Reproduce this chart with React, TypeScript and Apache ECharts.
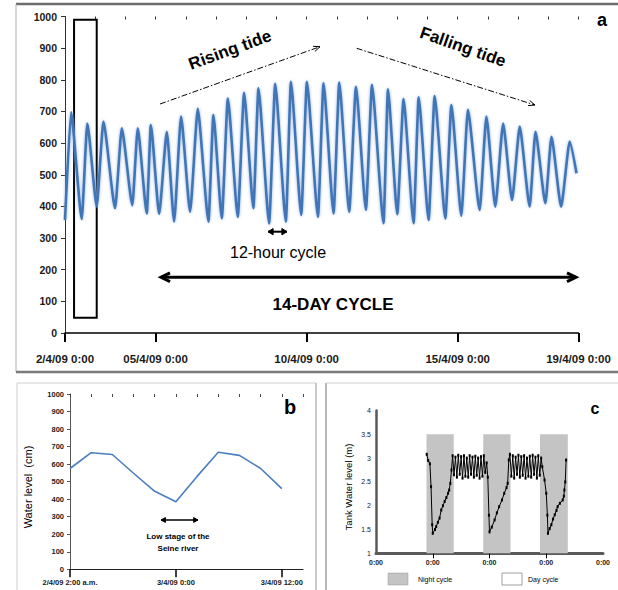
import React, { useEffect, useRef } from 'react';
import * as echarts from 'echarts';

// ---------- Panel a : tide water level (hours after 2/4/09 0:00) ----------
const tideHours = [
  0, 4.8, 13.3, 17.7, 25.2, 30.5, 39.8, 45.1, 53.5, 57.8, 65.0, 68.2, 74.8, 80.9, 86.7, 92.2,
  99.4, 105.5, 114.0, 117.9, 124.6, 129.4, 137.3, 142.3, 149.7, 153.7, 162.2, 167.0, 175.5,
  179.5, 187.7, 192.2, 201.0, 205.4, 213.4, 217.9, 225.8, 231.2, 239.1, 243.9, 253.1, 256.6,
  264.0, 269.0, 277.0, 281.0, 288.9, 293.7, 302.2, 307.0, 314.9, 320.1, 329.5, 334.8, 341.9,
  348.1, 355.2, 361.3, 369.2, 373.8, 381.7, 386.5, 394.2, 401.0, 406.4,
];
const tideLevel = [
  357, 697, 360, 662, 400, 668, 394, 647, 404, 647, 378, 657, 376, 636, 352, 684,
  383, 708, 352, 689, 362, 741, 367, 759, 394, 773, 346, 787, 352,
  794, 373, 794, 367, 789, 378, 791, 383, 778, 389, 784, 347, 770,
  375, 739, 347, 745, 357, 749, 362, 720, 371, 705, 389, 684, 399,
  662, 420, 652, 399, 636, 410, 620, 399, 605, 505,
];
const aTickHours = [0, 72, 192, 312, 408];
const aTickLabels = ['2/4/09 0:00', '05/4/09 0:00', '10/4/09 0:00', '15/4/09 0:00', '19/4/09 0:00'];
const boxHours = [7.2, 25.2];
const boxLevels = [48, 990];

// ---------- Panel b ----------
const bLabels = ['2/4/09 2:00 a.m.', '', '', '', '', '3/4/09 0:00', '', '', '', '', '3/4/09 12:00', ''];
const bLevel = [575, 665, 655, 548, 445, 385, 530, 668, 650, 575, 460];

// ---------- Panel c (days) ----------
const cDays = [
  0.894, 0.92, 0.95, 0.97, 0.99, 1.0, 1.04, 1.06, 1.09, 1.12, 1.15, 1.18, 1.21, 1.24, 1.27, 1.29, 1.31, 1.33,
  1.35, 1.375, 1.4, 1.425, 1.45, 1.475, 1.5, 1.525, 1.55, 1.575, 1.6, 1.625, 1.65, 1.675, 1.7, 1.725,
  1.75, 1.775, 1.8, 1.825, 1.85, 1.875, 1.9, 1.925, 1.95, 1.97, 1.99, 2.0,
  2.04, 2.09, 2.13, 2.17, 2.22, 2.26, 2.3, 2.32, 2.34,
  2.36, 2.385, 2.41, 2.435, 2.46, 2.485, 2.51, 2.535, 2.56, 2.585, 2.61, 2.635, 2.66, 2.685,
  2.71, 2.735, 2.76, 2.785, 2.81, 2.835, 2.86, 2.885, 2.91, 2.93, 2.97, 3.0, 3.02, 3.03,
  3.06, 3.09, 3.12, 3.15, 3.18, 3.2, 3.24, 3.29, 3.31, 3.32, 3.335, 3.35,
];
const cLevel = [
  3.08, 2.95, 2.88, 2.4, 1.6, 1.42, 1.5, 1.56, 1.65, 1.74, 1.91, 2.0, 2.09, 2.17, 2.26, 2.33, 2.47, 2.75,
  3.05, 2.65, 3.02, 2.6, 3.06, 2.66, 3.03, 2.58, 3.05, 2.62, 3.0, 2.6, 3.05, 2.66, 3.02, 2.6,
  3.04, 2.64, 3.0, 2.58, 3.03, 2.62, 3.05, 2.7, 2.9, 2.6, 1.8, 1.45,
  1.55, 1.7, 1.85, 1.98, 2.12, 2.26, 2.38, 2.47, 2.96,
  3.08, 2.62, 3.05, 2.58, 3.02, 2.66, 3.06, 2.6, 3.03, 2.64, 3.05, 2.58, 3.0, 2.62,
  3.04, 2.6, 3.06, 2.66, 3.02, 2.58, 3.05, 2.64, 3.0, 2.82, 2.54, 2.26, 1.8, 1.42,
  1.52, 1.6, 1.72, 1.81, 1.9, 1.98, 2.05, 2.12, 2.2, 2.33, 2.5, 2.96,
];
const cTickDays = [0, 1, 2, 3, 4];
const cTickLabel = '0:00';
const nightStart = [0.89, 1.89, 2.89];
const nightEnd = [1.37, 2.37, 3.38];

const FONT = '"Liberation Sans", Arial, sans-serif';

function head(x: number, y: number, ang: number, len: number, spread: number, color: string, lw: number, filled: boolean) {
  const a1 = ang + Math.PI - spread;
  const a2 = ang + Math.PI + spread;
  const p1 = [x + len * Math.cos(a1), y + len * Math.sin(a1)];
  const p2 = [x + len * Math.cos(a2), y + len * Math.sin(a2)];
  if (filled) {
    return { type: 'polygon', shape: { points: [p1, [x, y], p2] }, style: { fill: color, stroke: color, lineWidth: 1 } };
  }
  return { type: 'polyline', shape: { points: [p1, [x, y], p2] }, style: { stroke: color, lineWidth: lw, fill: null } };
}

function arrow(x1: number, y1: number, x2: number, y2: number, o: any) {
  const ang = Math.atan2(y2 - y1, x2 - x1);
  const els: any[] = [
    {
      type: 'line',
      shape: { x1, y1, x2, y2 },
      style: { stroke: '#000', lineWidth: o.lw, lineDash: o.dash || null },
    },
  ];
  els.push(head(x2, y2, ang, o.len, o.spread, '#000', o.lw, o.filled));
  if (o.both) els.push(head(x1, y1, ang + Math.PI, o.len, o.spread, '#000', o.lw, o.filled));
  return els;
}

function txt(x: number, y: number, text: string, font: string, extra: any = {}) {
  return {
    type: 'text',
    x,
    y,
    rotation: extra.rotation || 0,
    style: {
      text,
      font,
      fill: extra.fill || '#000',
      align: extra.align || 'center',
      verticalAlign: 'middle',
    },
  };
}

function ln(x1: number, y1: number, x2: number, y2: number, stroke: string, lineWidth: number) {
  return { type: 'line', shape: { x1, y1, x2, y2 }, style: { stroke, lineWidth } };
}

export default function App() {
  const ref = useRef<HTMLDivElement>(null);

  useEffect(() => {
    document.body.style.margin = '0';
    if (!ref.current) return;
    const chart = echarts.init(ref.current, null, { renderer: 'svg' });

    const graphics: any[] = [
      // frames
      ln(16, 4, 618, 4, '#6e6e6e', 2.5),
      ln(16, 4, 16, 372, '#b0b0b0', 1),
      ln(16, 372, 618, 372, '#7a7a7a', 2.5),
      ln(17, 383, 316, 383, '#d0d0d0', 1),
      ln(17, 383, 17, 590, '#d0d0d0', 1),
      ln(316, 383, 316, 590, '#b8b8b8', 1.5),
      ln(326, 383, 326, 590, '#a0a0a0', 1.5),
      ln(326, 383, 618, 383, '#d0d0d0', 1),
      // panel a annotations
      ...arrow(160, 104, 320, 46.7, { lw: 1, dash: [6, 2, 1.5, 2], len: 7, spread: 0.4, filled: false }),
      ...arrow(356.7, 48.3, 535, 105, { lw: 1, dash: [6, 2, 1.5, 2], len: 7, spread: 0.4, filled: false }),
      txt(230, 50, 'Rising tide', 'bold 17px ' + FONT, { rotation: 0.35 }),
      txt(463, 47, 'Falling tide', 'bold 17px ' + FONT, { rotation: -0.34 }),
      ...arrow(268, 231.7, 287, 231.7, { lw: 2, len: 6, spread: 0.55, filled: true, both: true }),
      txt(278, 252, '12-hour cycle', '16px ' + FONT),
      ...arrow(161, 277.3, 576, 277.3, { lw: 3, len: 10, spread: 0.45, filled: false, both: true }),
      txt(333, 304, '14-DAY CYCLE', 'bold 17px ' + FONT),
      txt(602, 20, 'a', 'bold 18px ' + FONT),
      // panel b annotations
      txt(28, 487, 'Water level  (cm)', '11px ' + FONT, { rotation: Math.PI / 2 }),
      ...arrow(161, 520, 198, 520, { lw: 1.5, len: 5, spread: 0.5, filled: true, both: true }),
      txt(178, 536, 'Low stage of the', 'bold 8px ' + FONT),
      txt(178, 548, 'Seine river', 'bold 8px ' + FONT),
      txt(290, 407, 'b', 'bold 20px ' + FONT),
      // panel c annotations
      txt(348, 487, 'Tank Water level (m)', '9.5px ' + FONT, { rotation: Math.PI / 2 }),
      txt(595, 408, 'c', 'bold 16px ' + FONT),
      { type: 'rect', shape: { x: 388, y: 573, width: 20, height: 12 }, style: { fill: '#c4c4c4', stroke: '#999', lineWidth: 0.5 } },
      txt(418, 579, 'Night cycle', '7px ' + FONT, { align: 'left' }),
      { type: 'rect', shape: { x: 502, y: 573, width: 20, height: 12 }, style: { fill: '#fff', stroke: '#888', lineWidth: 0.8 } },
      txt(528, 579, 'Day cycle', '7px ' + FONT, { align: 'left' }),
    ];

    const plain = (v: number) => String(v);

    const option: any = {
      animation: false,
      backgroundColor: '#fff',
      textStyle: { fontFamily: FONT },
      grid: [
        { left: 65, top: 16.5, width: 513.5, height: 316.5 },
        { left: 70, top: 394, width: 233, height: 175.3 },
        { left: 376, top: 410.5, width: 227, height: 142.8 },
      ],
      xAxis: [
        {
          gridIndex: 0,
          type: 'value',
          min: 0,
          max: 408,
          axisLine: { show: true, lineStyle: { color: '#000', width: 1.5 } },
          axisTick: { show: true, customValues: aTickHours, length: 9, lineStyle: { color: '#000', width: 2 } },
          axisLabel: {
            customValues: aTickHours,
            formatter: (v: number) => aTickLabels[aTickHours.indexOf(Math.round(v))] || '',
            fontSize: 11.5,
            fontWeight: 'bold',
            color: '#1a1a1a',
            margin: 20,
          },
          splitLine: { show: false },
        },
        {
          gridIndex: 0,
          type: 'value',
          min: 0,
          max: 408,
          interval: 24,
          axisLine: { show: false },
          axisTick: { show: true, inside: true, length: 3, lineStyle: { color: '#333', width: 1 } },
          axisLabel: { show: false },
          splitLine: { show: false },
        },
        {
          gridIndex: 1,
          type: 'category',
          boundaryGap: false,
          data: bLabels.map((_, i) => 'c' + i),
          axisLine: { show: true, lineStyle: { color: '#222', width: 1 } },
          axisTick: { show: true, interval: (i: number) => i % 5 === 0, length: 8, lineStyle: { color: '#000', width: 1.5 } },
          axisLabel: {
            interval: 0,
            formatter: (_v: string, i: number) => bLabels[i],
            fontSize: 7.5,
            fontWeight: 'bold',
            color: '#1a1a1a',
            margin: 9,
          },
          splitLine: { show: false },
        },
        {
          gridIndex: 1,
          type: 'category',
          boundaryGap: false,
          data: bLabels.map((_, i) => 'c' + i),
          axisLine: { show: false },
          axisTick: { show: true, interval: 0, inside: true, length: 3, lineStyle: { color: '#444', width: 1 } },
          axisLabel: { show: false },
          splitLine: { show: false },
        },
        {
          gridIndex: 2,
          type: 'value',
          min: 0,
          max: 4,
          axisLine: { show: true, lineStyle: { color: '#5a5a5a', width: 3 } },
          axisTick: { show: true, customValues: [1, 2, 3], length: 5, lineStyle: { color: '#000', width: 1 } },
          axisLabel: {
            customValues: cTickDays,
            formatter: () => cTickLabel,
            fontSize: 7,
            fontWeight: 'bold',
            color: '#222',
            margin: 6,
          },
          splitLine: { show: false },
        },
      ],
      yAxis: [
        {
          gridIndex: 0,
          type: 'value',
          min: 0,
          max: 1000,
          interval: 100,
          axisLine: { show: true, lineStyle: { color: '#333', width: 1 } },
          axisTick: { show: true, length: 4, lineStyle: { color: '#333' } },
          axisLabel: { formatter: plain, fontSize: 10.5, fontWeight: 'bold', color: '#1a1a1a', margin: 8 },
          splitLine: { show: false },
        },
        {
          gridIndex: 1,
          type: 'value',
          min: 0,
          max: 1000,
          interval: 100,
          axisLine: { show: true, lineStyle: { color: '#555', width: 1 } },
          axisTick: { show: true, length: 3, lineStyle: { color: '#555' } },
          axisLabel: { formatter: plain, fontSize: 7.5, fontWeight: 'bold', color: '#1a1a1a', margin: 6 },
          splitLine: { show: false },
        },
        {
          gridIndex: 2,
          type: 'value',
          min: 1,
          max: 4,
          interval: 0.5,
          axisLine: { show: true, lineStyle: { color: '#5a5a5a', width: 2.5 } },
          axisTick: { show: false },
          axisLabel: { fontSize: 7, color: '#222', margin: 5 },
          splitLine: { show: false },
        },
      ],
      series: [
        {
          type: 'line',
          xAxisIndex: 0,
          yAxisIndex: 0,
          data: tideHours.map((h, i) => [h, tideLevel[i]]),
          showSymbol: false,
          smooth: 0.18,
          smoothMonotone: 'x',
          lineStyle: { color: '#3f74b8', width: 2.6, shadowColor: 'rgba(140,175,220,0.9)', shadowBlur: 3 },
          markArea: {
            silent: true,
            itemStyle: { color: 'rgba(0,0,0,0)', borderColor: '#000', borderWidth: 2 },
            data: [[{ xAxis: boxHours[0], yAxis: boxLevels[1] }, { xAxis: boxHours[1], yAxis: boxLevels[0] }]],
          },
          z: 3,
        },
        {
          type: 'line',
          xAxisIndex: 2,
          yAxisIndex: 1,
          data: bLevel,
          showSymbol: false,
          lineStyle: { color: '#4a7ebf', width: 1.6 },
        },
        {
          type: 'line',
          xAxisIndex: 4,
          yAxisIndex: 2,
          data: cDays.map((d, i) => [d, cLevel[i]]),
          symbol: 'rect',
          symbolSize: [2, 3],
          itemStyle: { color: '#000' },
          lineStyle: { color: '#000', width: 1 },
          markArea: {
            silent: true,
            itemStyle: { color: '#c4c4c4' },
            data: nightStart.map((s, i) => [{ xAxis: s, yAxis: 3.5 }, { xAxis: nightEnd[i], yAxis: 1 }]),
          },
        },
      ],
      graphic: { elements: graphics },
    };

    chart.setOption(option);
    return () => chart.dispose();
  }, []);

  return <div ref={ref} style={{ width: 618, height: 590 }} />;
}
